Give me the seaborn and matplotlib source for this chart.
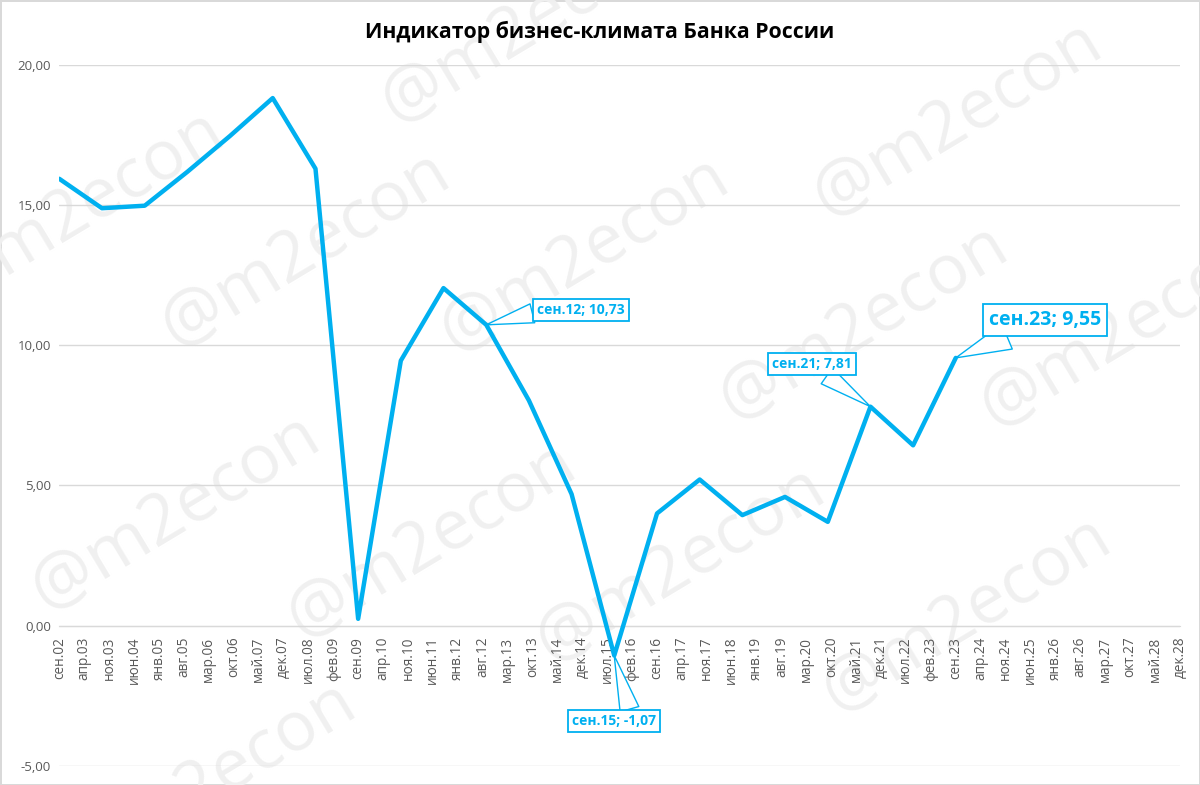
import pandas as pd
import matplotlib.pyplot as plt
import matplotlib.dates as mdates
import seaborn as sns

# Business climate indicator, Bank of Russia (September of each year)
years = list(range(2002, 2024))
values = [15.94, 14.89, 14.98, 16.19, 17.47, 18.82, 16.30, 0.24, 9.45, 12.04,
          10.73, 8.03, 4.69, -1.07, 4.00, 5.21, 3.94, 4.59, 3.70, 7.81, 6.43, 9.55]

months_ru = ['янв', 'фев', 'мар', 'апр', 'май', 'июн',
             'июл', 'авг', 'сен', 'окт', 'ноя', 'дек']
yticks = [-5, 0, 5, 10, 15, 20]

# labelled points: year, label box centre (figure pixels), font size, pointer origin on box
callouts = [(2012, (581, 475), 10, (0.0, 0.35)),
            (2015, (614, 64), 10, (0.7, 1.0)),
            (2021, (812, 421), 10, (0.6, 0.0)),
            (2023, (1045, 465), 14, (0.3, 0.0))]

# watermark centres (figure pixels from bottom-left)
marks = [(80, 576), (306, 535), (526, 759), (585, 530), (958, 665),
         (864, 462), (1125, 455), (176, 272), (432, 244), (681, 220),
         (967, 170), (212, 5)]

blue = '#00B0F0'
grey = '#d9d9d9'

df = pd.DataFrame({'date': pd.to_datetime([f'{y}-09-01' for y in years]),
                   'value': values})

sns.set_style('white')
plt.rcParams['font.family'] = ['Open Sans', 'DejaVu Sans']

fig = plt.figure(figsize=(12, 7.85), dpi=100)
fig.patch.set_edgecolor(grey)
fig.patch.set_linewidth(2)
ax = fig.add_axes([0.0494, 0.0246, 0.9339, 0.8926])
ax.patch.set_alpha(0)

# watermark
for (px, py) in marks:
    ax.text(px / 1200, py / 785, '@m2econ', transform=fig.transFigure,
            rotation=31, fontsize=50, color='#f0f0f0', ha='center',
            va='center', rotation_mode='anchor', clip_on=False, zorder=0)

sns.lineplot(data=df, x='date', y='value', color=blue, linewidth=3.2,
             ax=ax, zorder=3)

ax.set_ylim(-5, 20)
ax.set_yticks(yticks)
ax.set_yticklabels([f'{v:.2f}'.replace('.', ',') for v in yticks])
ax.yaxis.grid(True, color=grey, linewidth=1)
ax.set_axisbelow(True)

ticks = pd.date_range('2002-09-01', '2028-12-01', freq='7MS')
ax.set_xlim(ticks[0], ticks[-1])
ax.set_xticks(ticks)
ax.set_xticklabels([f'{months_ru[d.month - 1]}.{d.year % 100:02d}' for d in ticks])

for s in ['top', 'right', 'left']:
    ax.spines[s].set_visible(False)
ax.spines['bottom'].set_position(('data', 0))
ax.spines['bottom'].set_color(grey)
ax.tick_params(axis='x', colors=grey, labelcolor='#595959', labelsize=9.8,
               length=5, width=1, direction='out', pad=3, labelrotation=90)
ax.tick_params(axis='y', labelcolor='#595959', labelsize=9.5, length=0, pad=6)
ax.set_xlabel('')
ax.set_ylabel('')

for (yr, pos, fs, rel) in callouts:
    v = values[years.index(yr)]
    label = f'сен.{yr % 100:02d}; ' + f'{v:.2f}'.replace('.', ',')
    ax.annotate(label, xy=(mdates.date2num(pd.Timestamp(f'{yr}-09-01')), v),
                xytext=pos, textcoords='figure pixels', ha='center', va='center',
                fontsize=fs, fontweight='bold', color=blue, zorder=5,
                bbox=dict(boxstyle='square,pad=0.3', fc='white', ec=blue, lw=1.3),
                arrowprops=dict(arrowstyle='wedge,tail_width=1.4', fc='white',
                                ec=blue, lw=1, shrinkA=0, shrinkB=0, relpos=rel))

fig.text(0.5, 1 - 32 / 785, 'Индикатор бизнес-климата Банка России',
         ha='center', va='center', fontsize=15.3, fontweight='bold', color='black')

fig.savefig('out.png', dpi=100)
